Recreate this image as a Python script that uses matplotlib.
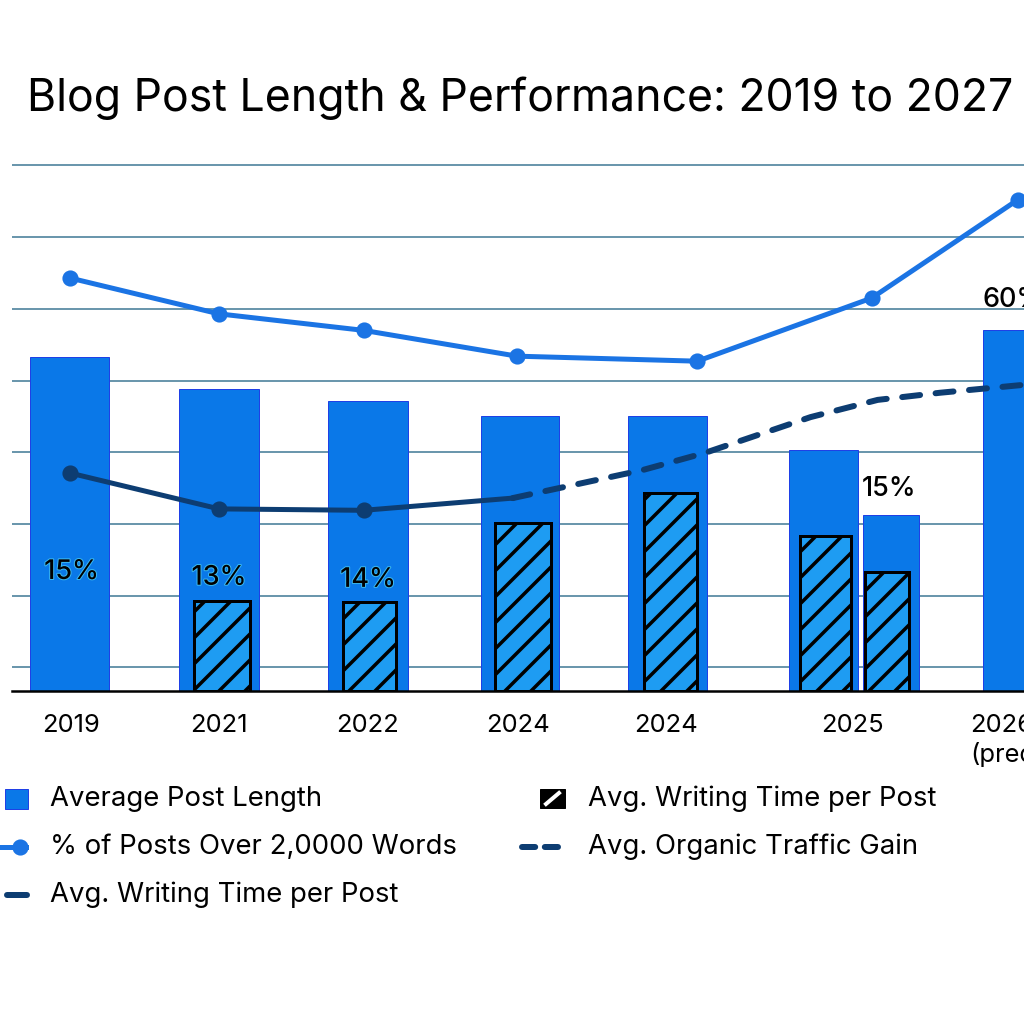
import matplotlib
matplotlib.use("Agg")
import matplotlib.pyplot as plt
import matplotlib.patheffects as pe
from matplotlib.patches import Rectangle
from matplotlib.lines import Line2D

# data (value units: one gridline step = 10)
years = ['2019', '2021', '2022', '2024', '2024', '2025', '2026\n(predicted)']
avg_post_length = [46.6, 42.1, 40.4, 38.4, 38.4, 33.6, 24.5, 50.3]   # last 2025 bar is an extra one
writing_time_bars = [12.5, 12.4, 23.4, 27.6, 21.6, 16.6]
pct_over_2000 = [57.6, 52.6, 50.3, 46.7, 46.0, 54.8, 68.5]
writing_time_line = [30.4, 25.4, 25.2, 26.9]
traffic_gain = [26.9, 30.8, 33.2, 38.2, 40.6, 41.6, 42.7]
value_labels = ['15%', '13%', '14%', '15%', '60%']

# layout
DPI = 156
PX = 72.0 / DPI          # points per pixel
tick_pos = [0.01, 1.0, 2.0, 3.01, 4.0, 5.25, 6.49]
bar_pos = [0.0, 1.0, 2.0, 3.02, 4.01, 5.06, 5.51, 6.39]
bar_w = [0.53, 0.537, 0.537, 0.53, 0.53, 0.463, 0.37, 0.53]
hatch_pos = [1.02, 2.01, 3.04, 4.03, 5.07, 5.48]
hatch_w = [0.37, 0.356, 0.37, 0.36, 0.336, 0.295]
pct_x = [0.0, 1.0, 1.97, 3.0, 4.21, 5.38, 6.36]
wt_x = [0.0, 1.0, 1.97, 2.97]
tg_x = [2.97, 3.84, 4.26, 4.97, 5.42, 5.84, 6.4]
label_xy = [(0.01, 16.6), (1.0, 15.8), (2.0, 15.5), (5.5, 28.2), (6.33, 54.5)]

BLUE = '#0a78e8'
LINE_BLUE = '#1b74e4'
HATCH_FILL = '#1e9cf2'
NAVY = '#0d3d72'
GRID = '#6b97ad'

plt.rcParams['font.family'] = ['Inter', 'DejaVu Sans']
plt.rcParams['hatch.linewidth'] = 3.5 * PX

fig = plt.figure(figsize=(1024 / DPI, 1024 / DPI), dpi=DPI)
ax = fig.add_axes([12 / 1024, 333 / 1024, 1058 / 1024, 537.75 / 1024])
ax.set_xlim(-0.389, 6.711)
ax.set_ylim(0, 75)

for y in range(0, 8):
    ax.axhline(3.3 + 10 * y, color=GRID, lw=2 * PX, zorder=0)

ax.bar(bar_pos, avg_post_length, width=bar_w, color=BLUE,
       edgecolor='#1f40e6', linewidth=1 * PX, zorder=2)
ax.bar(hatch_pos, writing_time_bars, width=hatch_w, color=HATCH_FILL,
       edgecolor='black', hatch='//', linewidth=3 * PX, zorder=3)

ax.plot(pct_x, pct_over_2000, color=LINE_BLUE, lw=5 * PX, marker='o',
        ms=14 * PX, zorder=5, solid_capstyle='round')
ax.plot(wt_x, writing_time_line, color=NAVY, lw=5 * PX, marker='o',
        ms=14 * PX, markevery=[0, 1, 2], zorder=5)
ax.plot(tg_x, traffic_gain, color=NAVY, lw=6 * PX, dashes=(3.0, 2.6),
        dash_capstyle='round', zorder=5)

glow = [pe.withStroke(linewidth=2 * PX, foreground='#3ab8f0')]
for i, (txt, (x, y)) in enumerate(zip(value_labels, label_xy)):
    kw = dict(path_effects=glow) if i < 3 else {}
    ax.text(x, y, txt, ha='center', va='center', fontsize=27 * PX,
            color='black', fontweight='medium', zorder=6, **kw)

for s in ['left', 'right', 'top']:
    ax.spines[s].set_visible(False)
ax.spines['bottom'].set_linewidth(2.5 * PX)
ax.spines['bottom'].set_zorder(7)
ax.set_yticks([])
ax.set_xticks(tick_pos)
ax.set_xticklabels(years, fontsize=25.5 * PX, linespacing=1.25)
ax.tick_params(axis='x', length=0, pad=23 * PX)
ax.get_xticklabels()[-1].set_multialignment('left')

fig.text(520 / 1024, 1 - 98 / 1024, 'Blog Post Length & Performance: 2019 to 2027',
         ha='center', va='center', fontsize=44.6 * PX, color='black')

# legend, drawn by hand in figure pixels
def fx(px):
    return px / 1024

def fy(py):
    return 1 - py / 1024

leg_fs = 27.5 * PX
fig.add_artist(Rectangle((fx(5), fy(809)), 23 / 1024, 20 / 1024, facecolor=BLUE,
                         edgecolor='#1f40e6', lw=1 * PX, transform=fig.transFigure))
fig.text(fx(50), fy(799), 'Average Post Length', va='center', fontsize=leg_fs)
fig.add_artist(Line2D([fx(-10), fx(26)], [fy(847)] * 2, color=LINE_BLUE, lw=5 * PX,
                      transform=fig.transFigure))
fig.add_artist(Line2D([fx(20)], [fy(847)], color=LINE_BLUE, marker='o', ms=14 * PX,
                      transform=fig.transFigure))
fig.text(fx(50), fy(847), '% of Posts Over 2,0000 Words', va='center', fontsize=leg_fs)
fig.add_artist(Line2D([fx(7), fx(27)], [fy(895)] * 2, color=NAVY, lw=6 * PX,
                      solid_capstyle='round', transform=fig.transFigure))
fig.text(fx(50), fy(895), 'Avg. Writing Time per Post', va='center', fontsize=leg_fs)

fig.add_artist(Rectangle((fx(540), fy(808)), 25 / 1024, 19 / 1024, facecolor='black',
                         edgecolor='black', lw=1 * PX, transform=fig.transFigure))
fig.add_artist(Line2D([fx(546), fx(559)], [fy(804), fy(793)], color='white', lw=4 * PX,
                      transform=fig.transFigure))
fig.text(fx(588), fy(799), 'Avg. Writing Time per Post', va='center', fontsize=leg_fs)
fig.add_artist(Line2D([fx(522), fx(564)], [fy(847)] * 2, color=NAVY, lw=6 * PX,
                      dashes=(2.2, 1.6), dash_capstyle='round', transform=fig.transFigure))
fig.text(fx(588), fy(847), 'Avg. Organic Traffic Gain', va='center', fontsize=leg_fs)

fig.savefig('out.png', dpi=DPI)
